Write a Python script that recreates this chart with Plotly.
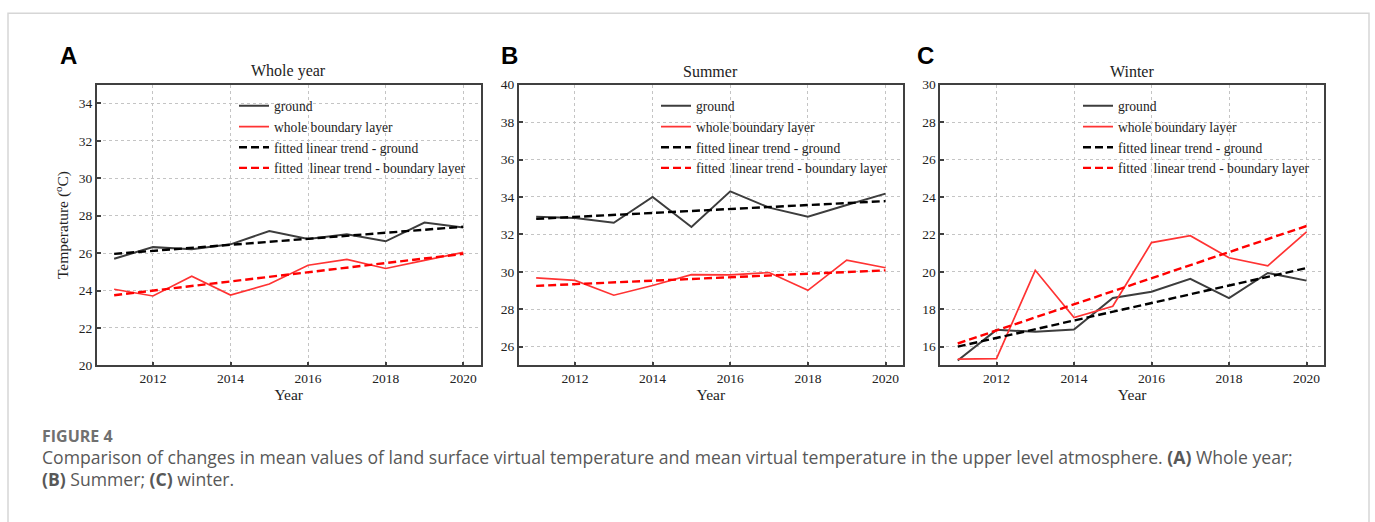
import plotly.graph_objects as go

W, H = 1375, 522

years = [2011, 2012, 2013, 2014, 2015, 2016, 2017, 2018, 2019, 2020]
trend_years = [2011, 2020]

# Panel A: whole year
a_ground = [25.70, 26.32, 26.21, 26.47, 27.18, 26.75, 27.01, 26.63, 27.63, 27.37]
a_layer = [24.07, 23.71, 24.76, 23.76, 24.35, 25.35, 25.66, 25.18, 25.61, 26.04]
a_trend_ground = [25.96, 27.41]
a_trend_layer = [23.75, 25.96]

# Panel B: summer
b_ground = [32.95, 32.88, 32.62, 34.00, 32.40, 34.30, 33.43, 32.95, 33.57, 34.18]
b_layer = [29.68, 29.54, 28.75, 29.27, 29.85, 29.84, 29.96, 29.01, 30.63, 30.22]
b_trend_ground = [32.83, 33.78]
b_trend_layer = [29.25, 30.08]

# Panel C: winter
c_ground = [15.26, 16.90, 16.80, 16.92, 18.60, 18.94, 19.63, 18.60, 19.94, 19.53]
c_layer = [15.34, 15.36, 20.08, 17.56, 18.16, 21.56, 21.93, 20.75, 20.32, 22.14]
c_trend_ground = [16.00, 20.20]
c_trend_layer = [16.17, 22.45]

titles = ["Whole year", "Summer", "Winter"]
letters = ["A", "B", "C"]
y_ranges = [[20, 35], [25, 40], [15, 30]]
y_ticks = [[20, 22, 24, 26, 28, 30, 32, 34],
           [26, 28, 30, 32, 34, 36, 38, 40],
           [16, 18, 20, 22, 24, 26, 28, 30]]
x_ticks = [2012, 2014, 2016, 2018, 2020]
names = ["ground", "whole boundary layer", "fitted linear trend - ground",
         "fitted  linear trend - boundary layer"]

panels = [
    (a_ground, a_layer, a_trend_ground, a_trend_layer),
    (b_ground, b_layer, b_trend_ground, b_trend_layer),
    (c_ground, c_layer, c_trend_ground, c_trend_layer),
]

# layout geometry in pixels
x_dom_px = [(96.7, 480.7), (518.7, 903.0), (940.3, 1324.0)]
y_top_px, y_bot_px = 80, 369
legend_text_px = [276, 698, 1120]
letter_px = [68, 509, 925]


def px(x):
    return x / W


def py(y):
    return 1 - y / H


SERIF = "Liberation Serif"
GROUND_C = "#3d3d3d"
RED_C = "#ff3333"

fig = go.Figure()

for i, (g, l, tg, tl) in enumerate(panels):
    sfx = "" if i == 0 else str(i + 1)
    xa, ya = "x" + sfx, "y" + sfx
    leg = "legend" + sfx
    fig.add_trace(go.Scatter(x=years, y=g, mode="lines", name=names[0],
                             line=dict(color=GROUND_C, width=2),
                             xaxis=xa, yaxis=ya, legend=leg))
    fig.add_trace(go.Scatter(x=years, y=l, mode="lines", name=names[1],
                             line=dict(color=RED_C, width=1.7),
                             xaxis=xa, yaxis=ya, legend=leg))
    fig.add_trace(go.Scatter(x=trend_years, y=tg, mode="lines", name=names[2],
                             line=dict(color="black", width=2.4, dash="8px,4px"),
                             xaxis=xa, yaxis=ya, legend=leg))
    fig.add_trace(go.Scatter(x=trend_years, y=tl, mode="lines", name=names[3],
                             line=dict(color="#ff0000", width=2.4, dash="8px,4px"),
                             xaxis=xa, yaxis=ya, legend=leg))

    x0, x1 = x_dom_px[i]
    axis_common = dict(showline=True, linecolor="#404040", linewidth=1.6,
                       mirror=True, ticks="inside", ticklen=4, tickwidth=1.5,
                       tickcolor="#404040", showgrid=True, gridcolor="#c4c4c4",
                       griddash="dot", gridwidth=1, zeroline=False,
                       tickfont=dict(family=SERIF, size=13.5, color="#222"))
    yaxis = dict(domain=[py(y_bot_px), py(y_top_px)], anchor=xa,
                 range=y_ranges[i], tickvals=y_ticks[i], **axis_common)
    if i == 0:
        yaxis["title"] = dict(text="Temperature (<sup>o</sup>C)", standoff=6,
                              font=dict(family=SERIF, size=15.5, color="#222"))
    fig.update_layout(**{
        "xaxis" + sfx: dict(domain=[px(x0), px(x1)], anchor=ya,
                            range=[2010.55, 2020.45], tickvals=x_ticks,
                            title=dict(text="Year", standoff=4,
                                       font=dict(family=SERIF, size=15.5, color="#222")),
                            **axis_common),
        "yaxis" + sfx: yaxis,
        leg: dict(x=px(legend_text_px[i] - 42), y=py(86), xanchor="left", yanchor="top",
                  bgcolor="rgba(0,0,0,0)", font=dict(family=SERIF, size=13.6, color="#222"),
                  tracegroupgap=0, itemwidth=30),
    })
    fig.add_annotation(text=titles[i], x=px((x0 + x1) / 2), y=py(66), xref="paper",
                       yref="paper", showarrow=False, xanchor="center", yanchor="middle",
                       font=dict(family=SERIF, size=16, color="#222"))
    fig.add_annotation(text="<b>" + letters[i] + "</b>", x=px(letter_px[i]), y=py(50),
                       xref="paper", yref="paper", showarrow=False, xanchor="center",
                       yanchor="middle", font=dict(family="Liberation Sans", size=24, color="black"))

# caption
CAP = "Open Sans"
fig.add_annotation(text="<b>FIGURE 4</b>", x=px(40), y=py(442), xref="paper", yref="paper",
                   showarrow=False, xanchor="left", yanchor="middle",
                   font=dict(family=CAP, size=16, color="#707070"))
fig.add_annotation(text="Comparison of changes in mean values of land surface virtual temperature and mean virtual temperature in the upper level atmosphere. <b>(A)</b> Whole year;",
                   x=px(40), y=py(463.5), xref="paper", yref="paper",
                   showarrow=False, xanchor="left", yanchor="middle",
                   font=dict(family=CAP, size=17.6, color="#585858"))
fig.add_annotation(text="<b>(B)</b> Summer; <b>(C)</b> winter.",
                   x=px(40), y=py(485.5), xref="paper", yref="paper",
                   showarrow=False, xanchor="left", yanchor="middle",
                   font=dict(family=CAP, size=17.6, color="#585858"))

# outer light frame
fig.add_shape(type="rect", xref="paper", yref="paper", x0=px(8), x1=px(1369),
              y0=py(540), y1=py(6.5), line=dict(color="#d6d6d6", width=1.5),
              fillcolor="rgba(0,0,0,0)", layer="below")

fig.update_layout(width=W, height=H, margin=dict(l=0, r=0, t=0, b=0),
                  paper_bgcolor="white", plot_bgcolor="white",
                  font=dict(family=SERIF), showlegend=True)

fig.write_html("out.html", config={"displayModeBar": False},
               post_script="document.body.style.margin='0';document.body.style.overflow='hidden';")
